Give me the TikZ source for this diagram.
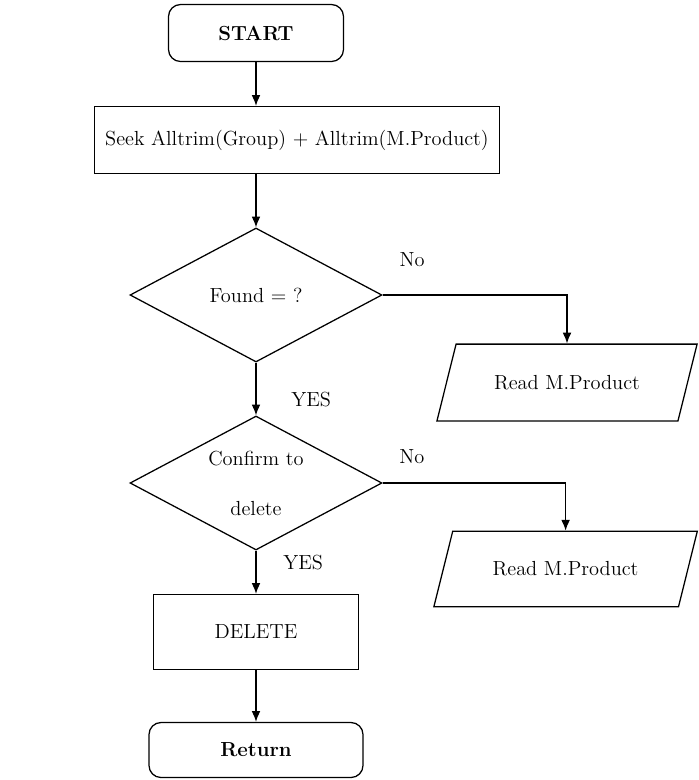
\documentclass[tikz,border=0pt]{standalone}
\usepackage {tikz}
\usetikzlibrary {positioning}
\usetikzlibrary{shapes.geometric}
\usetikzlibrary{arrows.meta}

\begin{document}
\begin{tikzpicture}[-{Latex[length=0.27cm, width=0.22cm]} ,auto ,node distance =2 cm and 2cm ,on grid ,
  line width = 0.9pt , font=\fontsize{14.5}{17}\selectfont,
  terminal/.style ={ rectangle, rounded corners = 0.3 cm, draw, black, text = black,
  font=\fontsize{14.5}{17}\selectfont\bfseries},
  process/.style ={ rectangle, draw, black, text = black},
  decision/.style ={ diamond, aspect = 1.88, draw, black, text = black, inner sep = 0pt,
  minimum width = 6.3 cm, minimum height = 3.35 cm, align = center},
  io/.style ={ trapezium, trapezium left angle = 76, trapezium right angle = 104,
  draw, black, text = black, inner xsep = 0.95 cm, inner ysep = 0.78 cm}]
  \useasboundingbox (0,0) rectangle (17.475,-19.5);
  \node[terminal, minimum width = 4.375 cm, minimum height = 1.425 cm] (start) at (6.4,-0.825)
  {START};
  \node[process, minimum width = 10.125 cm, minimum height = 1.675 cm] (seek) [below=2.675cm of start, xshift=1.025cm]
  {Seek Alltrim(Group) + Alltrim(M.Product)};
  \node[decision] (found) [below=6.55cm of start] {Found = ?};
  \node[io] (read1) [below right=2.19cm and 7.775cm of found]
  {Read M.Product};
  \node[decision] (confirm) [below=4.7cm of found] {Confirm to\\[0.65cm] delete};
  \node[io, inner xsep = 1.0 cm, inner ysep = 0.76 cm] (read2) [below right=2.15cm and 7.74cm of confirm]
  {Read M.Product};
  \node[process, minimum width = 5.125 cm, minimum height = 1.875 cm] (delete) [below=3.725cm of confirm] {DELETE};
  \node[terminal, minimum width = 5.35 cm, minimum height = 1.375 cm] (return) [below=2.95cm of delete]
  {Return};
  \path (start) edge (start |- seek.north);
  \path (seek.south -| found) edge (found);
  \draw (found.east) -| node[pos=0.08, above=0.575cm] {No} (read1.north);
  \path (found) edge node[pos=0.7, right=0.75cm] {YES} (confirm);
  \draw (confirm.east) -| node[pos=0.08, above=0.35cm] {No} (read2.north);
  \path (confirm) edge node[pos=0.27, right=0.55cm] {YES} (delete);
  \path (delete) edge (return);
\end{tikzpicture}
\end{document}
